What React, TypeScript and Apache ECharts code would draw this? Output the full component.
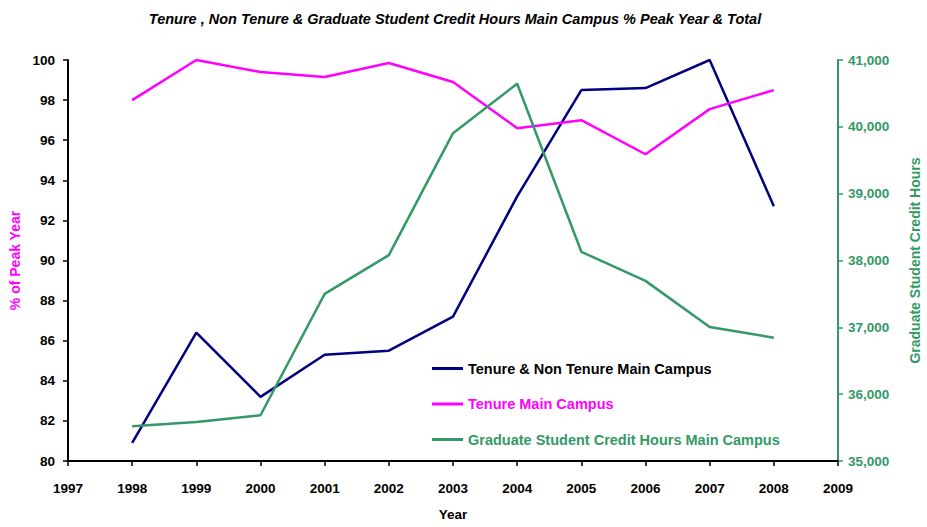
import React, { useEffect, useRef } from "react";
import * as echarts from "echarts";

const years = [1998, 1999, 2000, 2001, 2002, 2003, 2004, 2005, 2006, 2007, 2008];
const tenureNonTenure = [80.9, 86.4, 83.2, 85.3, 85.5, 87.2, 93.2, 98.5, 98.6, 100, 92.7];
const tenure = [98.0, 100, 99.4, 99.15, 99.85, 98.9, 96.6, 97.0, 95.3, 97.55, 98.5];
const gradHours = [35520, 35585, 35685, 37500, 38080, 39905, 40645, 38130, 37695, 37005, 36845];

const seriesNames = [
  "Tenure & Non Tenure Main Campus",
  "Tenure Main Campus",
  "Graduate Student Credit Hours Main Campus",
];
const colors = ["#000080", "#FF00FF", "#339966"];
const legendTextColors = ["#000000", "#FF00FF", "#339966"];

const FONT = "Liberation Sans, Arial, sans-serif";

export default function App() {
  const ref = useRef<HTMLDivElement>(null);
  useEffect(() => {
    if (!ref.current) return;
    const chart = echarts.init(ref.current, null, { renderer: "svg" });
    const pairs = (vals: number[]) => years.map((y, i) => [y, vals[i]]);
    chart.setOption({
      animation: false,
      backgroundColor: "#ffffff",
      title: {
        text: "Tenure , Non Tenure & Graduate Student Credit Hours Main Campus % Peak Year & Total",
        left: 450,
        textAlign: "center",
        top: 6,
        textStyle: {
          fontFamily: FONT,
          fontSize: 14.5,
          fontWeight: "bold",
          fontStyle: "italic",
          color: "#000",
        },
      },
      grid: { left: 68, right: 89, top: 60, bottom: 66, containLabel: false, outerBoundsMode: "none" },
      legend: {
        orient: "vertical",
        left: 432,
        top: 361,
        padding: 0,
        itemGap: 20.5,
        itemWidth: 31,
        itemHeight: 3,
        icon: "rect",
        textStyle: { fontFamily: FONT, fontSize: 14.5, fontWeight: "bold" },
        data: seriesNames.map((n, i) => ({
          name: n,
          textStyle: { color: legendTextColors[i] },
        })),
      },
      xAxis: {
        type: "value",
        min: 1997,
        max: 2009,
        interval: 1,
        name: "Year",
        nameLocation: "middle",
        nameGap: 46,
        nameTextStyle: { fontFamily: FONT, fontSize: 13.5, fontWeight: "bold", color: "#000" },
        axisLine: { show: true, onZero: false, lineStyle: { color: "#000", width: 2 } },
        axisTick: { show: true, inside: false, length: 5, lineStyle: { color: "#000", width: 1.5 } },
        axisLabel: {
          margin: 20,
          fontFamily: FONT,
          fontSize: 13.5,
          fontWeight: "bold",
          color: "#000",
          formatter: (v: number) => String(v),
        },
        splitLine: { show: false },
      },
      yAxis: [
        {
          type: "value",
          min: 80,
          max: 100,
          interval: 2,
          name: "% of Peak Year",
          nameLocation: "middle",
          nameGap: 46,
          nameTextStyle: { fontFamily: FONT, fontSize: 14, fontWeight: "bold", color: "#FF00FF" },
          axisLine: { show: true, lineStyle: { color: "#000", width: 2 } },
          axisTick: { show: true, length: 5, lineStyle: { color: "#000", width: 1.5 } },
          axisLabel: {
            margin: 13,
            fontFamily: FONT,
            fontSize: 13.5,
            fontWeight: "bold",
            color: "#000",
          },
          splitLine: { show: false },
        },
        {
          type: "value",
          min: 35000,
          max: 41000,
          interval: 1000,
          position: "right",
          name: "Graduate Student Credit Hours",
          nameLocation: "middle",
          nameGap: 70,
          nameRotate: 90,
          nameTextStyle: { fontFamily: FONT, fontSize: 14, fontWeight: "bold", color: "#339966" },
          axisLine: { show: true, lineStyle: { color: "#339966", width: 2 } },
          axisTick: { show: true, length: 5, lineStyle: { color: "#339966", width: 1.5 } },
          axisLabel: {
            margin: 10,
            fontFamily: FONT,
            fontSize: 13.5,
            fontWeight: "bold",
            color: "#339966",
            formatter: (v: number) => v.toLocaleString("en-US"),
          },
          splitLine: { show: false },
        },
      ],
      series: [
        {
          name: seriesNames[0],
          type: "line",
          yAxisIndex: 0,
          data: pairs(tenureNonTenure),
          symbol: "none",
          lineStyle: { color: colors[0], width: 2.5 },
          itemStyle: { color: colors[0] },
        },
        {
          name: seriesNames[1],
          type: "line",
          yAxisIndex: 0,
          data: pairs(tenure),
          symbol: "none",
          lineStyle: { color: colors[1], width: 2.5 },
          itemStyle: { color: colors[1] },
        },
        {
          name: seriesNames[2],
          type: "line",
          yAxisIndex: 1,
          data: pairs(gradHours),
          symbol: "none",
          lineStyle: { color: colors[2], width: 2.5 },
          itemStyle: { color: colors[2] },
        },
      ],
    });
    return () => chart.dispose();
  }, []);
  return <div ref={ref} style={{ width: 927, height: 527, position: "absolute", left: 0, top: 0 }} />;
}
